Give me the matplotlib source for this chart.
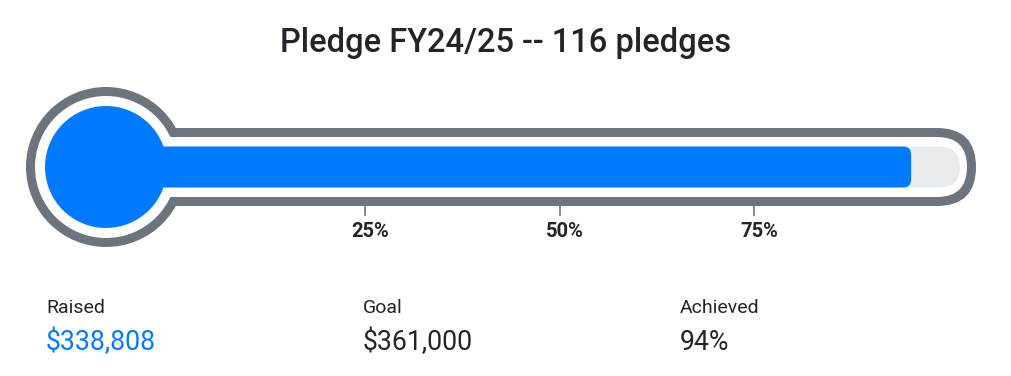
import matplotlib
matplotlib.use("Agg")
import matplotlib.pyplot as plt
from matplotlib.patches import Circle, FancyBboxPatch

# Data
title_text = "Pledge FY24/25 -- 116 pledges"
raised = 338808
goal = 361000
tick_pcts = [25, 50, 75]
stat_labels = ["Raised", "Goal", "Achieved"]

achieved = raised / goal
stat_values = ["${:,.0f}".format(raised), "${:,.0f}".format(goal), "{:.0f}%".format(achieved * 100)]

BLUE = "#007bff"
GRAY = "#6c757d"
TRACK = "#e9ecef"
TEXT = "#212529"

plt.rcParams["font.family"] = ["Roboto", "DejaVu Sans"]

fig = plt.figure(figsize=(10.12, 3.76), dpi=100)
ax = fig.add_axes([0, 0, 1, 1])
ax.set_xlim(0, 1012)
ax.set_ylim(376, 0)
ax.axis("off")

# scale: fraction of goal -> pixel x along the tube
x0, x100 = 171, 949
def xpos(frac):
    return x0 + frac * (x100 - x0)

cx, cy = 106, 167

def tube(x_left, x_right, half_h, r, color, z):
    ax.add_patch(FancyBboxPatch((x_left, cy - half_h), x_right - x_left, 2 * half_h,
                                boxstyle="round,pad=0,rounding_size=%g" % r,
                                fc=color, ec="none", zorder=z))

# gray outline
ax.add_patch(Circle((cx, cy), 80, fc=GRAY, ec="none", zorder=1))
tube(cx, 976, 39, 39, GRAY, 1)
# white inside
ax.add_patch(Circle((cx, cy), 71, fc="white", ec="none", zorder=2))
tube(cx, 967, 30, 30, "white", 2)
# track
tube(cx, 960, 20.5, 20.5, TRACK, 3)
# filled part
tube(cx, xpos(achieved) + 10, 20.5, 8, BLUE, 4)
ax.add_patch(Circle((cx, cy), 61, fc=BLUE, ec="none", zorder=5))

# ticks
for p in tick_pcts:
    x = xpos(p / 100)
    ax.plot([x, x], [206, 215], color=GRAY, lw=1.2, zorder=1)
    ax.text(x + 5, 237, "%d%%" % p, ha="center", va="baseline", fontsize=14.5,
            fontweight="bold", color=TEXT)

ax.text(506, 52, title_text, ha="center", va="baseline", fontsize=23.5,
        fontweight="medium", color=TEXT)

stat_x = [46, 363, 680]
for i, (lab, val) in enumerate(zip(stat_labels, stat_values)):
    ax.text(stat_x[i], 313, lab, ha="left", va="baseline", fontsize=14, color=TEXT)
    ax.text(stat_x[i], 350, val, ha="left", va="baseline", fontsize=19.2,
            color=BLUE if i == 0 else TEXT)

fig.savefig("out.png", dpi=100)
